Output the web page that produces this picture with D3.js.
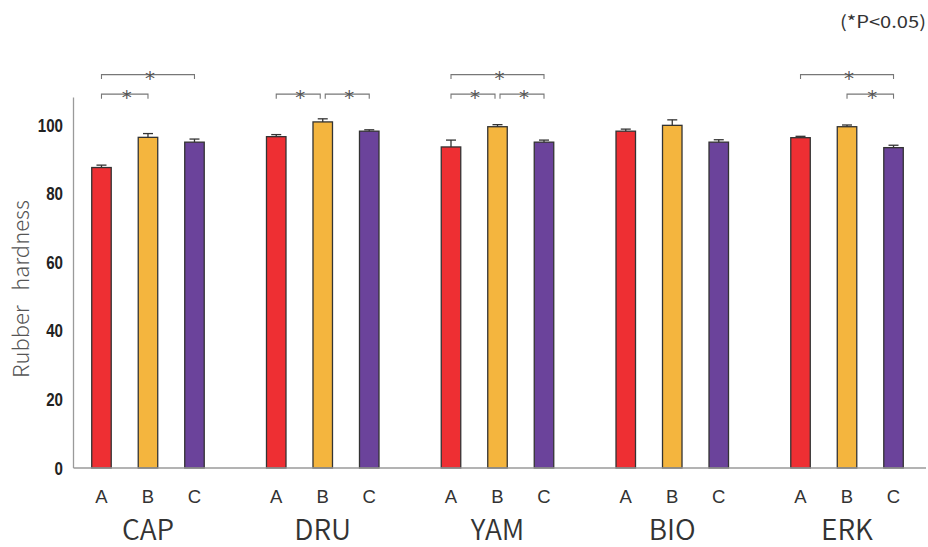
<!DOCTYPE html>
<html><head><meta charset="utf-8">
<script src="https://cdn.jsdelivr.net/npm/d3@7/dist/d3.min.js"></script>
<style>
html,body{margin:0;padding:0;background:#fff;}
svg{display:block;}
</style></head>
<body>
<svg id="chart" width="928" height="547"></svg>
<script>
const groups = ["CAP","DRU","YAM","BIO","ERK"];
const subgroups = ["A","B","C"];
const colors = ["#ee2f33","#f4b53e","#6b439b"];
const valuesA = [87.6, 96.6, 93.6, 98.2, 96.3];
const valuesB = [96.4, 100.9, 99.5, 99.9, 99.5];
const valuesC = [95.0, 98.2, 95.0, 95.0, 93.4];
const errorsA = [0.7, 0.6, 2.0, 0.6, 0.4];
const errorsB = [1.1, 0.9, 0.6, 1.6, 0.5];
const errorsC = [0.9, 0.4, 0.6, 0.7, 0.7];
const yTicks = [0, 20, 40, 60, 80, 100];
// significance brackets: group, from, to, level
const sigGroup = ["CAP","CAP","DRU","DRU","YAM","YAM","YAM","ERK","ERK"];
const sigFrom  = ["A","A","A","B","A","A","B","A","B"];
const sigTo    = ["C","B","B","C","C","B","C","C","C"];
const sigLevel = [1,0,0,0,1,0,0,1,0];
const levelValues = [109.0, 114.7];
const yLabel = "Rubber\u00a0\u00a0\u00a0hardness";
const note = "(*P<0.05)";

const svg = d3.select("#chart");
const y = d3.scaleLinear().domain([0,108]).range([468, 97.56]);
const x0 = d3.scaleBand().domain(groups).range([60.6, 934.4]).padding(0);
const x1 = d3.scalePoint().domain(subgroups).range([-46.5, 46.5]);
const cx = (g, s) => x0(g) + x0.bandwidth()/2 + x1(s);
const barW = 19.5;

const vals = [valuesA, valuesB, valuesC];
const errs = [errorsA, errorsB, errorsC];
const data = [];
groups.forEach((g, gi) => subgroups.forEach((s, si) => {
  data.push({g, s, v: vals[si][gi], e: errs[si][gi], c: colors[si]});
}));

// axes lines
svg.append("line").attr("x1",73.5).attr("x2",73.5).attr("y1",y(108)).attr("y2",y(0))
  .attr("stroke","#9a9a9a").attr("stroke-width",1.3);

// bars
svg.selectAll("rect.bar").data(data).join("rect")
  .attr("class","bar")
  .attr("x", d => cx(d.g,d.s) - barW/2)
  .attr("width", barW)
  .attr("y", d => y(d.v))
  .attr("height", d => y(0) - y(d.v))
  .attr("fill", d => d.c)
  .attr("stroke", "#333")
  .attr("stroke-width", 1.3);

svg.append("line").attr("x1",73.5).attr("x2",926).attr("y1",y(0)).attr("y2",y(0))
  .attr("stroke","#9a9a9a").attr("stroke-width",1.3);

// error bars
const eb = svg.append("g").attr("stroke","#333").attr("stroke-width",1.3);
eb.selectAll("line.v").data(data).join("line")
  .attr("x1", d => cx(d.g,d.s)).attr("x2", d => cx(d.g,d.s))
  .attr("y1", d => y(d.v)).attr("y2", d => y(d.v + d.e));
eb.selectAll("line.h").data(data).join("line")
  .attr("x1", d => cx(d.g,d.s) - 5).attr("x2", d => cx(d.g,d.s) + 5)
  .attr("y1", d => y(d.v + d.e)).attr("y2", d => y(d.v + d.e));

// y tick labels
svg.append("g").selectAll("text").data(yTicks).join("text")
  .attr("x", 63).attr("y", d => y(d) + 6.5)
  .attr("text-anchor","end")
  .attr("font-family","'Liberation Sans',Arial,sans-serif")
  .attr("font-weight","bold").attr("font-size",19).attr("fill","#222")
  .attr("textLength", d => String(d).length * 8.4).attr("lengthAdjust","spacingAndGlyphs")
  .text(d => d);

// y label
svg.append("text")
  .attr("transform","translate(29,289) rotate(-90)")
  .attr("text-anchor","middle")
  .attr("font-family","'Noto Sans CJK JP','Noto Sans',sans-serif")
  .attr("font-weight",300)
  .attr("font-size",22).attr("fill","#555")
  .text(yLabel);

// sub labels
svg.append("g").selectAll("text").data(data).join("text")
  .attr("x", d => cx(d.g,d.s)).attr("y", 503)
  .attr("text-anchor","middle")
  .attr("font-family","'Liberation Sans',Arial,sans-serif")
  .attr("font-size",18.5).attr("fill","#333")
  .text(d => d.s);

// group labels
svg.append("g").selectAll("text").data(groups).join("text")
  .attr("x", d => x0(d) + x0.bandwidth()/2).attr("y", 540)
  .attr("text-anchor","middle")
  .attr("font-family","'Noto Sans CJK JP','Noto Sans',sans-serif")
  .attr("font-weight",350)
  .attr("font-size",28).attr("fill","#333")
  .text(d => d);

// significance brackets
const sig = sigGroup.map((g,i) => ({g, f: sigFrom[i], t: sigTo[i], l: sigLevel[i]}));
sig.forEach(d => {
  const shared = sig.filter(o => o !== d && o.g === d.g && o.l === d.l);
  let xa = cx(d.g, d.f), xb = cx(d.g, d.t);
  if (shared.some(o => o.t === d.f)) xa += 2.5;
  if (shared.some(o => o.f === d.t)) xb -= 2.5;
  d.xa = xa; d.xb = xb; d.yy = y(levelValues[d.l]);
});
const br = svg.append("g").attr("fill","none").attr("stroke","#777").attr("stroke-width",1.1);
br.selectAll("path").data(sig).join("path")
  .attr("d", d => `M${d.xa},${d.yy+4.5}V${d.yy}H${d.xb}V${d.yy+4.5}`);
svg.append("g").selectAll("text").data(sig).join("text")
  .attr("x", d => (d.xa + d.xb)/2 + 2).attr("y", d => d.yy + 10)
  .attr("text-anchor","middle")
  .attr("font-family","'DejaVu Sans',sans-serif")
  .attr("font-size",20).attr("fill","#555")
  .text("*");

// note
svg.append("text")
  .attr("x", 840).attr("y", 28)
  .attr("font-family","'Noto Sans CJK JP','Noto Sans',sans-serif")
  .attr("font-size",17).attr("fill","#333")
  .attr("textLength",86).attr("lengthAdjust","spacingAndGlyphs")
  .text(note);
</script>
</body></html>
